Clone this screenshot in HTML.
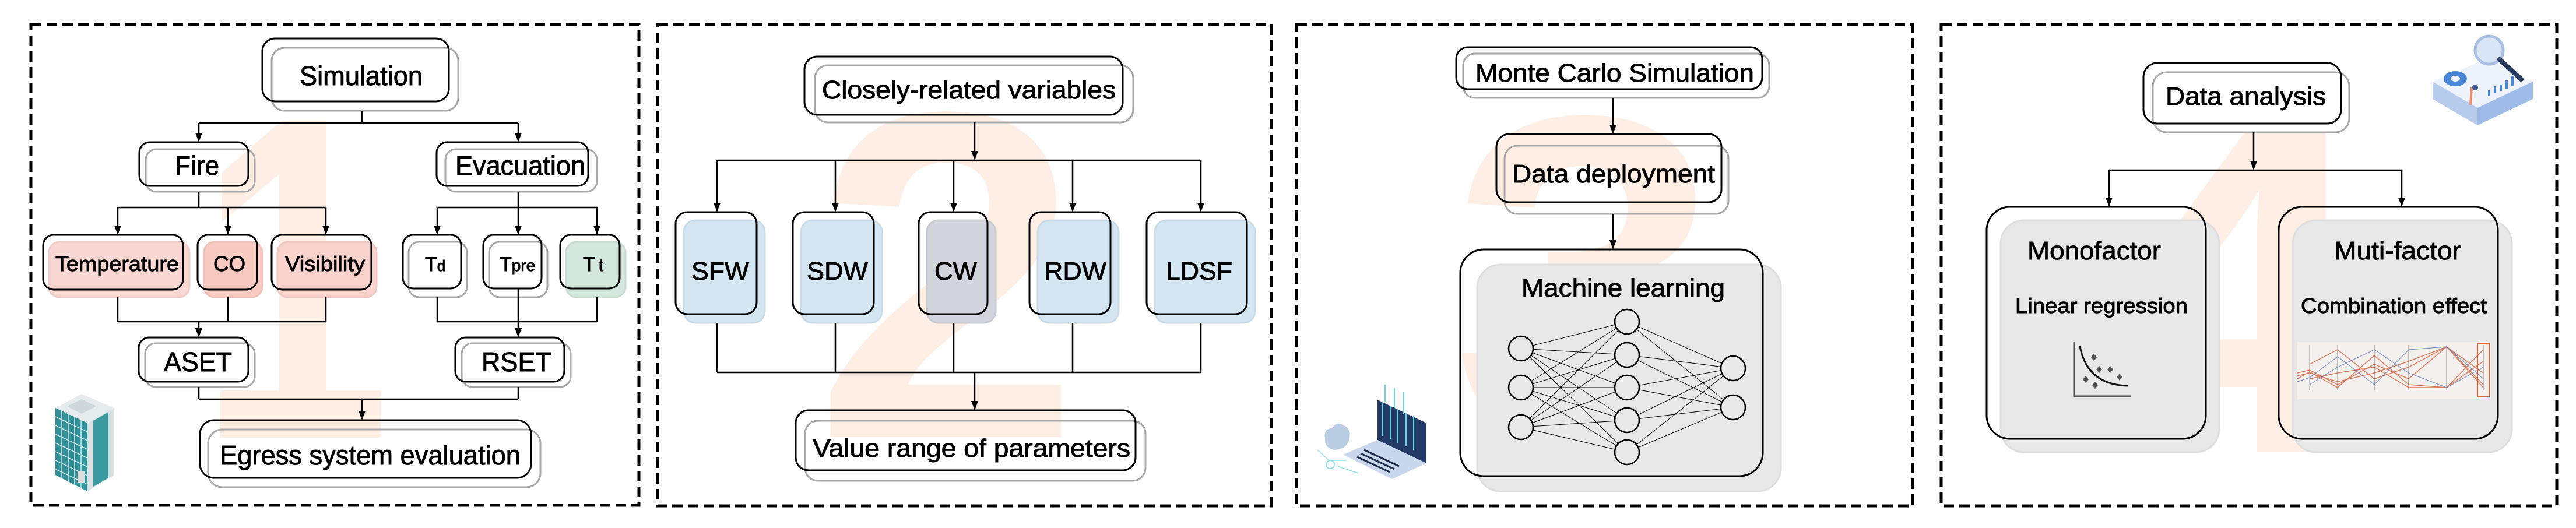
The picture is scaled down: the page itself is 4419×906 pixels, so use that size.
<!DOCTYPE html>
<html><head><meta charset="utf-8"><style>
html,body{margin:0;padding:0;background:#fff;}
svg{display:block;}
text{font-family:"Liberation Sans",Arial,sans-serif;fill:#000;}
.t text{stroke:#000;stroke-width:0.9px;}
</style></head><body>
<svg width="4419" height="906" viewBox="0 0 4419 906" xmlns="http://www.w3.org/2000/svg">
<rect width="4419" height="906" fill="#fff"/>

<!-- big background digits -->
<g font-family="Liberation Sans" font-weight="bold">
<text x="340" y="751" font-size="790" textLength="330" lengthAdjust="spacingAndGlyphs" style="fill:#feeee3">1</text>
<text x="1396" y="750" font-size="800" textLength="457" lengthAdjust="spacingAndGlyphs" style="fill:#feeee3">2</text>
<text x="2489" y="756" font-size="800" textLength="464" lengthAdjust="spacingAndGlyphs" style="fill:#feeee3">3</text>
<text x="3577" y="776" font-size="800" textLength="500" lengthAdjust="spacingAndGlyphs" style="fill:#feeee3">4</text>
</g>

<!-- dashed panel borders -->
<g fill="none" stroke="#000" stroke-width="5" stroke-dasharray="18,9">
<rect x="53" y="42" width="1043" height="825"/>
<rect x="1128" y="42" width="1053" height="826"/>
<rect x="2224" y="42" width="1057" height="826"/>
<rect x="3330" y="42" width="1056" height="826"/>
</g>

<!-- ================= PANEL 1 ================= -->
<g stroke-width="3">
<g stroke="#a8a8a8" fill="none">
<rect x="466" y="82" width="320" height="108" rx="22"/>
<rect x="250" y="256" width="187" height="73" rx="18"/>
<rect x="764" y="256" width="260" height="73" rx="18"/>
<rect x="84" y="415" width="241" height="95" rx="18" fill="#f9d7d2" stroke="#f0cdc8"/>
<rect x="350" y="415" width="100" height="95" rx="18" fill="#f8cbc2" stroke="#efc2b9"/>
<rect x="476" y="415" width="170" height="95" rx="18" fill="#f9d2cb" stroke="#f0c8c1"/>
<rect x="701" y="415" width="100" height="95" rx="18"/>
<rect x="839" y="415" width="100" height="95" rx="18"/>
<rect x="971" y="415" width="102" height="95" rx="18" fill="#d4e7dc" stroke="#c9dccf"/>
<rect x="249" y="589" width="188" height="75" rx="18"/>
<rect x="792" y="589" width="187" height="75" rx="18"/>
<rect x="357" y="737" width="570" height="99" rx="24"/>
</g>
<g stroke="#000" fill="none">
<rect x="450" y="66" width="320" height="108" rx="22"/>
<rect x="239" y="244" width="187" height="75" rx="18"/>
<rect x="749" y="244" width="260" height="75" rx="18"/>
<rect x="74" y="403" width="240" height="94" rx="18"/>
<rect x="339" y="403" width="102" height="94" rx="18"/>
<rect x="466" y="403" width="171" height="94" rx="18"/>
<rect x="691" y="403" width="100" height="92" rx="18"/>
<rect x="829" y="403" width="100" height="92" rx="18"/>
<rect x="961" y="403" width="102" height="92" rx="18"/>
<rect x="238" y="579" width="188" height="76" rx="18"/>
<rect x="781" y="579" width="187" height="76" rx="18"/>
<rect x="343" y="721" width="568" height="99" rx="24"/>
</g>
<g stroke="#000" stroke-width="2.5" fill="none">
<path d="M621 190V211M341 211H889M341 211V230M889 211V230"/>
<path d="M341 329V356M202 356H559M202 356V390M391 356V390M559 356V390"/>
<path d="M889 329V390M750 356H1024M750 356V390M1024 356V390"/>
<path d="M202 510V552M391 510V552M559 510V552M202 552H559M341 552V566"/>
<path d="M750 510V552M889 495V566M1024 510V552M750 552H1024"/>
<path d="M341 664V685M889 664V685M341 685H889M621 685V707"/>
</g>
<g fill="#000">
<path d="M335 228L347 228L341 244Z"/><path d="M883 228L895 228L889 244Z"/>
<path d="M196 387L208 387L202 403Z"/><path d="M385 387L397 387L391 403Z"/><path d="M553 387L565 387L559 403Z"/>
<path d="M744 387L756 387L750 403Z"/><path d="M883 387L895 387L889 403Z"/><path d="M1018 387L1030 387L1024 403Z"/>
<path d="M335 563L347 563L341 579Z"/><path d="M883 563L895 563L889 579Z"/>
<path d="M615 705L627 705L621 721Z"/>
</g>
</g>
<g class="t" font-size="46">
<text x="514" y="146" textLength="211" lengthAdjust="spacingAndGlyphs">Simulation</text>
<text x="300" y="300" textLength="76" lengthAdjust="spacingAndGlyphs">Fire</text>
<text x="781" y="300" textLength="223" lengthAdjust="spacingAndGlyphs">Evacuation</text>
<text x="281" y="637" textLength="117" lengthAdjust="spacingAndGlyphs">ASET</text>
<text x="826" y="637" textLength="120" lengthAdjust="spacingAndGlyphs">RSET</text>
<text x="377" y="797" textLength="516" lengthAdjust="spacingAndGlyphs">Egress system evaluation</text>
</g>
<g class="t" font-size="36">
<text x="95" y="465" textLength="212" lengthAdjust="spacingAndGlyphs">Temperature</text>
<text x="366" y="465" textLength="55" lengthAdjust="spacingAndGlyphs">CO</text>
<text x="489" y="465" textLength="137" lengthAdjust="spacingAndGlyphs">Visibility</text>
<text x="729" y="465" font-size="34">T<tspan font-size="26">d</tspan></text>
<text x="857" y="465" font-size="34">T<tspan font-size="28">pre</tspan></text>
<text x="1000" y="465" font-size="34">T<tspan font-size="30" dx="6">t</tspan></text>
</g>
<!-- building icon -->
<g>
<path d="M95 700L140 676L196 700L150 726Z" fill="#e6ecee"/>
<path d="M115 697L140 685L165 697L140 710Z" fill="#cfd8db"/>
<path d="M95 700L150 726L150 843L95 815Z" fill="#2f8f96"/>
<path d="M150 726L196 700L196 815L150 843Z" fill="#d9e1e3"/>
<path d="M160 722L186 707L186 820L160 835Z" fill="#3a9aa0"/>
<g stroke="#d9eef0" stroke-width="1.5">
<path d="M95 715L150 741M95 730L150 756M95 745L150 771M95 760L150 786M95 775L150 801M95 790L150 816M95 805L150 831"/>
<path d="M106 706V820M117 711V826M128 716V831M139 721V837"/>
</g>
<rect x="133" y="808" width="12" height="20" fill="#ddd"/>
</g>

<!-- ================= PANEL 2 ================= -->
<g stroke-width="3">
<g stroke="#a8a8a8" fill="none">
<rect x="1398" y="112" width="546" height="98" rx="22"/>
<rect x="1173" y="378" width="139" height="176" rx="20" fill="#d4e6f2" stroke="#c9dbe7"/>
<rect x="1374" y="378" width="139" height="176" rx="20" fill="#d4e6f2" stroke="#c9dbe7"/>
<rect x="1590" y="378" width="118" height="176" rx="20" fill="#d2d6dc" stroke="#c8ccd2"/>
<rect x="1780" y="378" width="139" height="176" rx="20" fill="#d4e6f2" stroke="#c9dbe7"/>
<rect x="1981" y="378" width="172" height="176" rx="20" fill="#d4e6f2" stroke="#c9dbe7"/>
<rect x="1381" y="722" width="584" height="103" rx="22"/>
</g>
<g stroke="#000" fill="none">
<rect x="1380" y="97" width="546" height="100" rx="22"/>
<rect x="1159" y="364" width="139" height="175" rx="20"/>
<rect x="1360" y="364" width="139" height="175" rx="20"/>
<rect x="1576" y="364" width="118" height="175" rx="20"/>
<rect x="1766" y="364" width="139" height="175" rx="20"/>
<rect x="1967" y="364" width="172" height="175" rx="20"/>
<rect x="1365" y="704" width="583" height="103" rx="22"/>
</g>
<g stroke="#000" stroke-width="2.5" fill="none">
<path d="M1672 210V262M1230 275H2060M1230 275V350M1433 275V350M1636 275V350M1840 275V350M2060 275V350"/>
<path d="M1230 554V639M1433 554V639M1636 554V639M1840 554V639M2060 554V639M1230 639H2060M1672 639V690"/>
</g>
<g fill="#000">
<path d="M1666 259L1678 259L1672 275Z"/>
<path d="M1224 348L1236 348L1230 364Z"/><path d="M1427 348L1439 348L1433 364Z"/><path d="M1630 348L1642 348L1636 364Z"/><path d="M1834 348L1846 348L1840 364Z"/><path d="M2054 348L2066 348L2060 364Z"/>
<path d="M1666 688L1678 688L1672 704Z"/>
</g>
</g>
<g class="t" font-size="44">
<text x="1410" y="169" textLength="504" lengthAdjust="spacingAndGlyphs">Closely-related variables</text>
<text x="1186" y="480" textLength="99" lengthAdjust="spacingAndGlyphs">SFW</text>
<text x="1384" y="480" textLength="105" lengthAdjust="spacingAndGlyphs">SDW</text>
<text x="1603" y="480" textLength="73" lengthAdjust="spacingAndGlyphs">CW</text>
<text x="1791" y="480" textLength="107" lengthAdjust="spacingAndGlyphs">RDW</text>
<text x="2000" y="480" textLength="114" lengthAdjust="spacingAndGlyphs">LDSF</text>
<text x="1394" y="784" textLength="545" lengthAdjust="spacingAndGlyphs">Value range of parameters</text>
</g>

<!-- ================= PANEL 3 ================= -->
<g stroke-width="3">
<rect x="2534" y="454" width="521" height="389" rx="40" fill="#e8e8e8" stroke="#dedede"/>
<g stroke="#a8a8a8" fill="none">
<rect x="2510" y="92" width="525" height="76" rx="20"/>
<rect x="2581" y="250" width="384" height="117" rx="22"/>
</g>
<g stroke="#000" fill="none">
<rect x="2498" y="81" width="525" height="72" rx="20"/>
<rect x="2567" y="230" width="386" height="117" rx="22"/>
<rect x="2505" y="428" width="519" height="389" rx="40"/>
</g>
<g stroke="#000" stroke-width="2.5" fill="none">
<path d="M2767 168V216M2767 367V414"/>
</g>
<g fill="#000">
<path d="M2761 214L2773 214L2767 230Z"/><path d="M2761 412L2773 412L2767 428Z"/>
</g>
</g>
<g stroke="#000" stroke-width="1" fill="none">
<path d="M2609 598L2791 552M2609 598L2791 609M2609 598L2791 665M2609 598L2791 721M2609 598L2791 776M2609 665L2791 552M2609 665L2791 609M2609 665L2791 665M2609 665L2791 721M2609 665L2791 776M2609 733L2791 552M2609 733L2791 609M2609 733L2791 665M2609 733L2791 721M2609 733L2791 776"/>
<path d="M2791 552L2973 632M2791 552L2973 699M2791 609L2973 632M2791 609L2973 699M2791 665L2973 632M2791 665L2973 699M2791 721L2973 632M2791 721L2973 699M2791 776L2973 632M2791 776L2973 699"/>
</g>
<g stroke="#000" stroke-width="2.5" fill="#e8e8e8">
<ellipse cx="2609" cy="598" rx="21" ry="21"/><ellipse cx="2609" cy="665" rx="21" ry="21"/><ellipse cx="2609" cy="733" rx="21" ry="21"/>
<ellipse cx="2791" cy="552" rx="21" ry="21"/><ellipse cx="2791" cy="609" rx="21" ry="21"/><ellipse cx="2791" cy="665" rx="21" ry="21"/><ellipse cx="2791" cy="721" rx="21" ry="21"/><ellipse cx="2791" cy="776" rx="21" ry="21"/>
<ellipse cx="2973" cy="632" rx="21" ry="21"/><ellipse cx="2973" cy="699" rx="21" ry="21"/>
</g>
<g class="t" font-size="44">
<text x="2531" y="140" textLength="478" lengthAdjust="spacingAndGlyphs">Monte Carlo Simulation</text>
<text x="2594" y="313" textLength="348" lengthAdjust="spacingAndGlyphs">Data deployment</text>
<text x="2610" y="509" textLength="349" lengthAdjust="spacingAndGlyphs">Machine learning</text>
</g>
<!-- laptop icon -->
<g>
<path d="M2273 752Q2270 735 2285 735Q2292 722 2305 730Q2318 735 2315 752Q2312 770 2290 772Q2272 770 2273 752Z" fill="#b9cde3"/>
<path d="M2363 686L2447 726L2447 795L2363 755Z" fill="#243a66"/>
<path d="M2304 780L2363 755L2447 795L2388 822Z" fill="#c9d8ec"/>
<g stroke="#1e2c4a" stroke-width="3"><path d="M2340 772L2400 800M2334 778L2392 805M2328 784L2384 810"/></g>
<g stroke="#5fd8e0" stroke-width="2"><path d="M2372 690V748M2385 696V754M2398 702V760M2412 708V766M2425 714V772M2376 660V690M2392 666V700M2408 672V710"/></g>
<path d="M2260 772L2280 790L2310 790M2295 800L2330 812" stroke="#8fe0ea" stroke-width="1.5" fill="none"/>
<circle cx="2282" cy="797" r="7" fill="none" stroke="#8fe0ea" stroke-width="2"/>
</g>

<!-- ================= PANEL 4 ================= -->
<g stroke-width="3">
<rect x="3432" y="378" width="375" height="398" rx="40" fill="#e8e8e8" stroke="#dedede"/>
<rect x="3933" y="378" width="376" height="398" rx="40" fill="#e8e8e8" stroke="#dedede"/>
<rect x="3693" y="124" width="337" height="103" rx="24" fill="none" stroke="#a8a8a8"/>
<g stroke="#000" fill="none">
<rect x="3677" y="108" width="339" height="104" rx="24"/>
<rect x="3408" y="355" width="376" height="398" rx="40"/>
<rect x="3909" y="355" width="376" height="398" rx="40"/>
</g>
<g stroke="#000" stroke-width="2.5" fill="none">
<path d="M3866 227V279M3618 292H4120M3618 292V341M4120 292V341"/>
</g>
<g fill="#000">
<path d="M3860 276L3872 276L3866 292Z"/><path d="M3612 339L3624 339L3618 355Z"/><path d="M4114 339L4126 339L4120 355Z"/>
</g>
</g>
<g class="t" font-size="44">
<text x="3715" y="180" textLength="275" lengthAdjust="spacingAndGlyphs">Data analysis</text>
<text x="3478" y="445" textLength="229" lengthAdjust="spacingAndGlyphs">Monofactor</text>
<text x="4004" y="445" textLength="218" lengthAdjust="spacingAndGlyphs">Muti-factor</text>
<text x="3457" y="537" font-size="36" textLength="296" lengthAdjust="spacingAndGlyphs">Linear regression</text>
<text x="3947" y="537" font-size="36" textLength="319" lengthAdjust="spacingAndGlyphs">Combination effect</text>
</g>
<!-- scatter icon -->
<g>
<path d="M3558 586V680H3656" stroke="#555" stroke-width="3" fill="none"/>
<path d="M3568 594Q3580 660 3650 662" stroke="#111" stroke-width="3" fill="none"/>
<g fill="#555"><path d="M3592 607l5 6l-5 6l-5-6z"/><path d="M3601 628l5 6l-5 6l-5-6z"/><path d="M3620 628l5 6l-5 6l-5-6z"/><path d="M3636 641l5 6l-5 6l-5-6z"/><path d="M3578 645l5 6l-5 6l-5-6z"/><path d="M3594 655l5 6l-5 6l-5-6z"/></g>
</g>
<!-- parallel coordinates -->
<g>
<rect x="3941" y="587" width="332" height="98" fill="#f4f0ee"/>
<g stroke="#888" stroke-width="1"><path d="M3962 592V670M4010 592V670M4073 592V670M4132 592V670M4197 592V670M4260 592V670"/></g>
<g stroke="#d2603a" stroke-width="1.5" fill="none" opacity="0.8">
<path d="M3941 640L3962 635L4010 660L4073 625L4132 650L4197 595L4260 660"/>
<path d="M3941 645L3962 640L4010 655L4073 640L4132 620L4197 595L4260 640"/>
<path d="M3941 650L3962 638L4010 665L4073 610L4132 660L4197 665L4260 600"/>
<path d="M3962 625L4010 600L4073 650L4132 630L4197 595L4260 665"/>
<path d="M3962 650L4010 640L4073 630L4132 665L4197 665L4260 620"/>
</g>
<g stroke="#4a6fb5" stroke-width="1.2" fill="none" opacity="0.7">
<path d="M3941 655L3962 648L4010 612L4073 660L4132 600L4197 595L4260 650"/>
<path d="M3962 660L4010 630L4073 600L4132 640L4197 665L4260 630"/>
</g>
<rect x="4250" y="589" width="20" height="92" fill="none" stroke="#e0603a" stroke-width="2"/>
</g>
<!-- data icon -->
<g>
<path d="M4173 140L4268 100L4345 140L4250 185Z" fill="#eef3fb"/>
<path d="M4173 140L4250 185L4250 215L4173 170Z" fill="#b8cdee"/>
<path d="M4250 185L4345 140L4345 170L4250 215Z" fill="#9fbbe8"/>
<ellipse cx="4212" cy="135" rx="20" ry="13" fill="#4a86d8"/>
<ellipse cx="4212" cy="135" rx="8" ry="5" fill="#eef3fb"/>
<g stroke="#4a86d8" stroke-width="4"><path d="M4270 165V155M4280 160V148M4290 156V145M4300 152V138M4310 148V130"/></g>
<circle cx="4270" cy="86" r="24" fill="#dbe6f6" stroke="#aac0e4" stroke-width="5"/>
<path d="M4288 102L4325 136" stroke="#263a5e" stroke-width="8" stroke-linecap="round"/>
<path d="M4240 150L4238 180" stroke="#f08a70" stroke-width="4"/>
<circle cx="4246" cy="150" r="5" fill="#3b5a9a"/>
</g>
</svg>
</body></html>
